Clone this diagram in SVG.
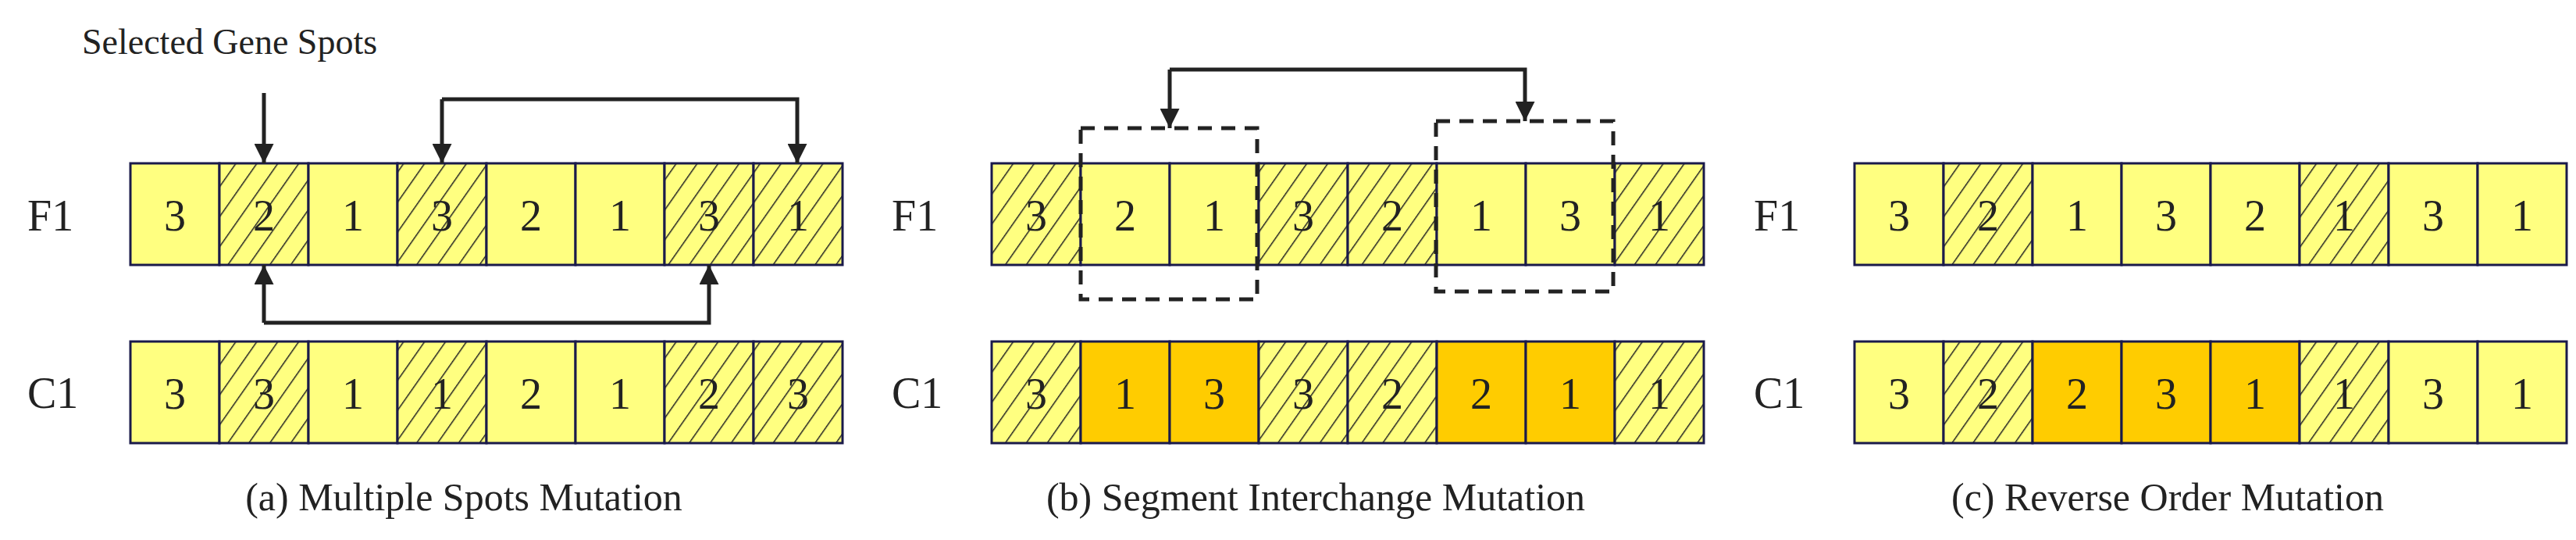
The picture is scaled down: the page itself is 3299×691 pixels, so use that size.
<svg xmlns="http://www.w3.org/2000/svg" width="3299" height="691" viewBox="0 0 3299 691">
<defs>
<pattern id="h" patternUnits="userSpaceOnUse" width="22" height="22" patternTransform="rotate(35)">
<rect width="22" height="22" fill="#FFFF80"/><line x1="0" y1="0" x2="0" y2="22" stroke="#222" stroke-width="3"/>
</pattern>
<marker id="ar" viewBox="0 0 10 10" refX="10" refY="5" markerWidth="5" markerHeight="5" orient="auto" markerUnits="strokeWidth"><path d="M0,0 L10,5 L0,10 z" fill="#222"/></marker>
</defs>
<style>
.c{stroke:#1a1a4a;stroke-width:3}
.y{fill:#FFFF80}.o{fill:#FFCC00}.s{fill:url(#h)}
text{font-family:"Liberation Serif",serif;fill:#222}
.d{font-size:56px;text-anchor:middle}
.l{font-size:56px}
.cap{font-size:50px;text-anchor:middle}
.a{fill:none;stroke:#222;stroke-width:5;marker-end:url(#ar)}
.b{fill:none;stroke:#222;stroke-width:5}
.dash{fill:none;stroke:#222;stroke-width:5;stroke-dasharray:18 12}
</style>
<g id="labels">
<text class="l" x="35" y="295">F1</text><text class="l" x="35" y="522">C1</text>
<text class="l" x="1142" y="295">F1</text><text class="l" x="1142" y="522">C1</text>
<text class="l" x="2246" y="295">F1</text><text class="l" x="2246" y="522">C1</text>
<text x="105" y="69" style="font-size:46px">Selected Gene Spots</text>
<text class="cap" x="594" y="653">(a) Multiple Spots Mutation</text>
<text class="cap" x="1685" y="653">(b) Segment Interchange Mutation</text>
<text class="cap" x="2776" y="653">(c) Reverse Order Mutation</text>
</g>
<g id="a-F1" transform="translate(167,209)">
<rect class="c y" x="0" width="114" height="130"/><rect class="c s" x="114" width="114" height="130"/><rect class="c y" x="228" width="114" height="130"/><rect class="c s" x="342" width="114" height="130"/><rect class="c y" x="456" width="114" height="130"/><rect class="c y" x="570" width="114" height="130"/><rect class="c s" x="684" width="114" height="130"/><rect class="c s" x="798" width="114" height="130"/>
<text class="d" x="57" y="86">3</text><text class="d" x="171" y="86">2</text><text class="d" x="285" y="86">1</text><text class="d" x="399" y="86">3</text><text class="d" x="513" y="86">2</text><text class="d" x="627" y="86">1</text><text class="d" x="741" y="86">3</text><text class="d" x="855" y="86">1</text>
</g>
<g id="a-C1" transform="translate(167,437)">
<rect class="c y" x="0" width="114" height="130"/><rect class="c s" x="114" width="114" height="130"/><rect class="c y" x="228" width="114" height="130"/><rect class="c s" x="342" width="114" height="130"/><rect class="c y" x="456" width="114" height="130"/><rect class="c y" x="570" width="114" height="130"/><rect class="c s" x="684" width="114" height="130"/><rect class="c s" x="798" width="114" height="130"/>
<text class="d" x="57" y="86">3</text><text class="d" x="171" y="86">3</text><text class="d" x="285" y="86">1</text><text class="d" x="399" y="86">1</text><text class="d" x="513" y="86">2</text><text class="d" x="627" y="86">1</text><text class="d" x="741" y="86">2</text><text class="d" x="855" y="86">3</text>
</g>
<g id="b-F1" transform="translate(1270,209)">
<rect class="c s" x="0" width="114" height="130"/><rect class="c y" x="114" width="114" height="130"/><rect class="c y" x="228" width="114" height="130"/><rect class="c s" x="342" width="114" height="130"/><rect class="c s" x="456" width="114" height="130"/><rect class="c y" x="570" width="114" height="130"/><rect class="c y" x="684" width="114" height="130"/><rect class="c s" x="798" width="114" height="130"/>
<text class="d" x="57" y="86">3</text><text class="d" x="171" y="86">2</text><text class="d" x="285" y="86">1</text><text class="d" x="399" y="86">3</text><text class="d" x="513" y="86">2</text><text class="d" x="627" y="86">1</text><text class="d" x="741" y="86">3</text><text class="d" x="855" y="86">1</text>
</g>
<g id="b-C1" transform="translate(1270,437)">
<rect class="c s" x="0" width="114" height="130"/><rect class="c o" x="114" width="114" height="130"/><rect class="c o" x="228" width="114" height="130"/><rect class="c s" x="342" width="114" height="130"/><rect class="c s" x="456" width="114" height="130"/><rect class="c o" x="570" width="114" height="130"/><rect class="c o" x="684" width="114" height="130"/><rect class="c s" x="798" width="114" height="130"/>
<text class="d" x="57" y="86">3</text><text class="d" x="171" y="86">1</text><text class="d" x="285" y="86">3</text><text class="d" x="399" y="86">3</text><text class="d" x="513" y="86">2</text><text class="d" x="627" y="86">2</text><text class="d" x="741" y="86">1</text><text class="d" x="855" y="86">1</text>
</g>
<g id="c-F1" transform="translate(2375,209)">
<rect class="c y" x="0" width="114" height="130"/><rect class="c s" x="114" width="114" height="130"/><rect class="c y" x="228" width="114" height="130"/><rect class="c y" x="342" width="114" height="130"/><rect class="c y" x="456" width="114" height="130"/><rect class="c s" x="570" width="114" height="130"/><rect class="c y" x="684" width="114" height="130"/><rect class="c y" x="798" width="114" height="130"/>
<text class="d" x="57" y="86">3</text><text class="d" x="171" y="86">2</text><text class="d" x="285" y="86">1</text><text class="d" x="399" y="86">3</text><text class="d" x="513" y="86">2</text><text class="d" x="627" y="86">1</text><text class="d" x="741" y="86">3</text><text class="d" x="855" y="86">1</text>
</g>
<g id="c-C1" transform="translate(2375,437)">
<rect class="c y" x="0" width="114" height="130"/><rect class="c s" x="114" width="114" height="130"/><rect class="c o" x="228" width="114" height="130"/><rect class="c o" x="342" width="114" height="130"/><rect class="c o" x="456" width="114" height="130"/><rect class="c s" x="570" width="114" height="130"/><rect class="c y" x="684" width="114" height="130"/><rect class="c y" x="798" width="114" height="130"/>
<text class="d" x="57" y="86">3</text><text class="d" x="171" y="86">2</text><text class="d" x="285" y="86">2</text><text class="d" x="399" y="86">3</text><text class="d" x="513" y="86">1</text><text class="d" x="627" y="86">1</text><text class="d" x="741" y="86">3</text><text class="d" x="855" y="86">1</text>
</g>
<g id="connectors">
<path class="a" d="M338,119 V209"/>
<path class="a" d="M566,127 V209"/>
<path class="a" d="M566,127 H1021 V209"/>
<path class="a" d="M338,413 V339"/>
<path class="a" d="M338,413 H908 V339"/>
<rect class="dash" x="1384" y="164" width="226" height="219"/>
<rect class="dash" x="1839" y="155" width="227" height="218"/>
<path class="a" d="M1498,89 V164"/>
<path class="a" d="M1498,89 H1953 V155"/>
</g>
</svg>
